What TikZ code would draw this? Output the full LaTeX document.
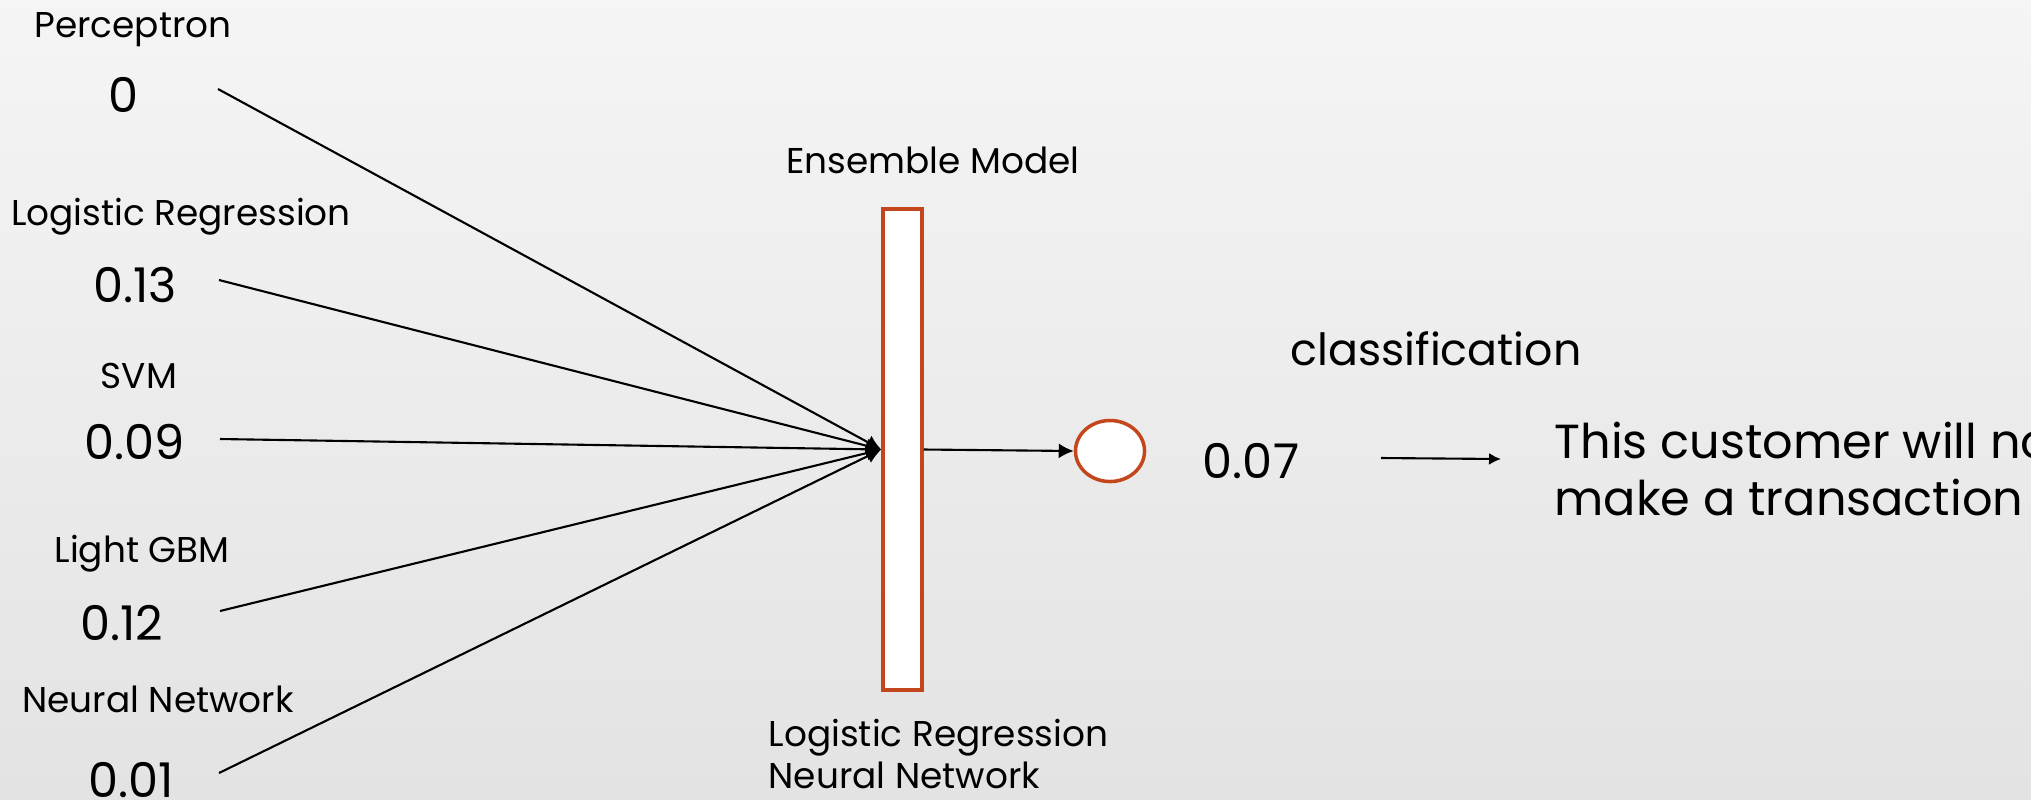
\documentclass[tikz,border=0pt]{standalone}
\usepackage{fontspec}
\setmainfont{Poppins}
\usetikzlibrary{arrows.meta,shapes.geometric}
\definecolor{boxorange}{HTML}{C4461C}
\begin{document}
\begin{tikzpicture}[x=0.01cm,y=-0.01cm,
		lbl/.style={inner sep=0pt,anchor=base,font=\fontsize{10.2}{11.7}\selectfont},
		val/.style={inner sep=0pt,anchor=base,font=\fontsize{13.6}{16.2}\selectfont},
		conn/.style={black,line width=0.6pt,-{Latex[length=0.15cm,width=0.15cm]}}]
		\clip (0,0) rectangle (2031,799);
		\shade [top color=black!4,bottom color=black!11] (0,0) rectangle (2031,799);
		% base models and their scores
		\node [lbl] (perc) at (133,37) {Perceptron};
		\node [val] (percv) at (124,112) {0};
		\node [lbl] (logr) at (181,225) {Logistic Regression};
		\node [val] (logrv) at (135,302) {0.13};
		\node [lbl] (svm) at (139,388) {SVM};
		\node [val] (svmv) at (135,459) {0.09};
		\node [lbl] (lgbm) at (142,562) {Light GBM};
		\node [val] (lgbmv) at (122,640) {0.12};
		\node [lbl] (nnet) at (158,712) {Neural Network};
		\node [val] (nnetv) at (131,797) {0.01};
		\coordinate (p1) at (218,89);
		\coordinate (p2) at (219,280);
		\coordinate (p3) at (220,439);
		\coordinate (p4) at (220,611);
		\coordinate (p5) at (219,773);
		% ensemble
		\node [lbl] (enst) at (933,173) {Ensemble Model};
		\node [draw=boxorange,line width=1pt,fill=white,minimum width=0.39cm,minimum height=4.81cm,inner sep=0pt] (ens) at (902.5,449.5) {};
		\node [lbl,anchor=base west,align=left] (ensb) at (768,788) {Logistic Regression\\Neural Network};
		\foreach \i in {1,...,5}
			\draw [conn] (p\i) -- (ens.west);
		\node [draw=boxorange,line width=1pt,fill=white,ellipse,minimum width=0.69cm,minimum height=0.61cm,inner sep=0pt] (out) at (1110,451) {};
		\draw [conn] (ens.east) -- (out.west);
		% classification
		\node [lbl,font=\fontsize{12.6}{14}\selectfont] (cls) at (1436,365) {classification};
		\node [val] (res) at (1251,478) {0.07};
		\coordinate (a1) at (1381,458);
		\coordinate (a2) at (1501,459);
		\draw [conn,-{Latex[length=0.12cm,width=0.12cm]}] (a1) -- (a2);
		\node [val,anchor=base west,align=left] (msg) at (1554,515) {This customer will not\\make a transaction};
\end{tikzpicture}
\end{document}
